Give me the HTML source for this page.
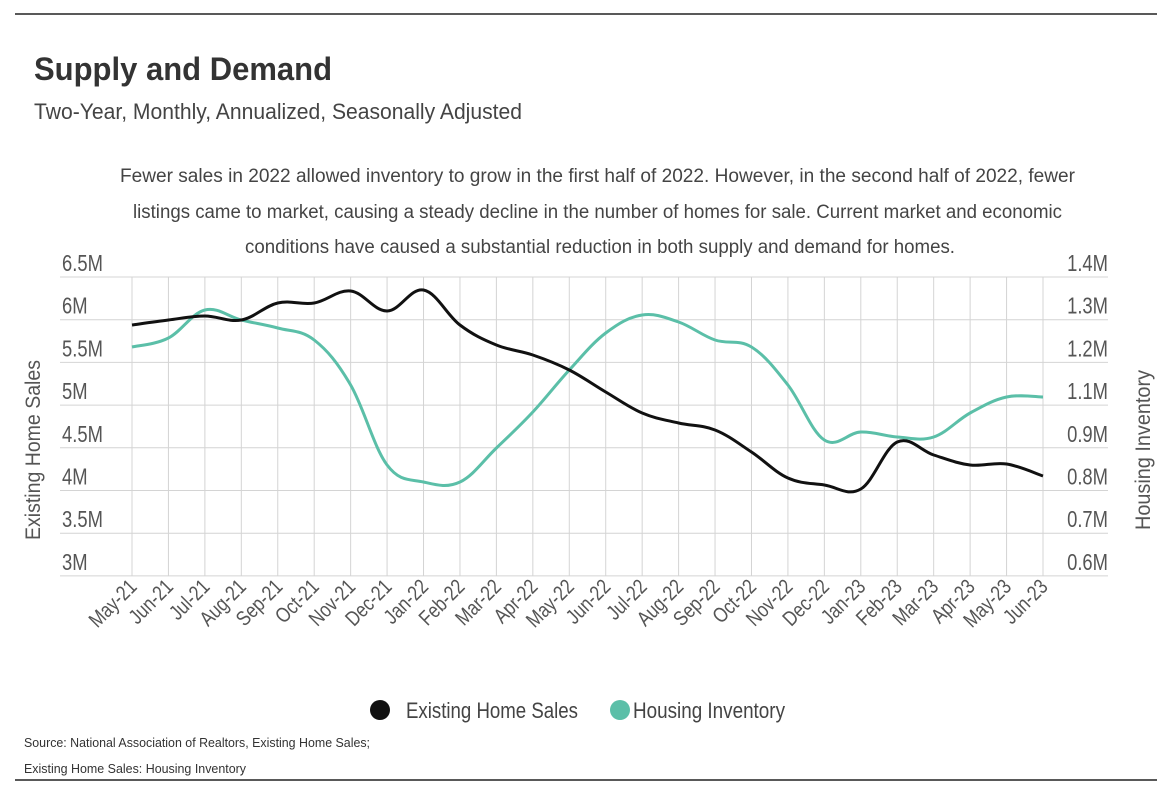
<!DOCTYPE html>
<html><head><meta charset="utf-8"><style>
html,body{margin:0;padding:0;background:#fff;}
svg{display:block;font-family:"Liberation Sans Narrow","Liberation Sans",sans-serif;}
</style></head><body>
<svg id="s" width="1170" height="796" viewBox="0 0 1170 796" xmlns="http://www.w3.org/2000/svg">
<rect width="1170" height="796" fill="#fff"/>
<line x1="15" y1="14" x2="1157" y2="14" stroke="#222" stroke-width="1.5"/>
<line x1="15" y1="780" x2="1157" y2="780" stroke="#222" stroke-width="1.5"/>
<text x="34" y="80" font-size="32" font-weight="bold" fill="#333" textLength="298" lengthAdjust="spacingAndGlyphs">Supply and Demand</text>
<text x="34" y="119" font-size="22" fill="#444" textLength="488" lengthAdjust="spacingAndGlyphs">Two-Year, Monthly, Annualized, Seasonally Adjusted</text>
<g font-size="19" fill="#444">
<text x="120" y="182" textLength="955" lengthAdjust="spacingAndGlyphs">Fewer sales in 2022 allowed inventory to grow in the first half of 2022. However, in the second half of 2022, fewer</text>
<text x="133" y="218" textLength="929" lengthAdjust="spacingAndGlyphs">listings came to market, causing a steady decline in the number of homes for sale. Current market and economic</text>
<text x="245" y="253" textLength="710" lengthAdjust="spacingAndGlyphs">conditions have caused a substantial reduction in both supply and demand for homes.</text>
</g>
<g id="grid" stroke="#d4d4d4" stroke-width="1"></g>
<g id="labels" fill="#555"></g>
<text transform="translate(40,450) rotate(-90)" text-anchor="middle" font-size="21" fill="#555" textLength="180" lengthAdjust="spacingAndGlyphs">Existing Home Sales</text>
<text transform="translate(1150,450) rotate(-90)" text-anchor="middle" font-size="21" fill="#555" textLength="160" lengthAdjust="spacingAndGlyphs">Housing Inventory</text>
<path id="teal" fill="none" stroke="#5bbfa8" stroke-width="3"/>
<path id="black" fill="none" stroke="#111" stroke-width="3"/>
<circle cx="380" cy="710" r="10" fill="#111"/>
<text x="406" y="718" font-size="22" fill="#444" textLength="172" lengthAdjust="spacingAndGlyphs">Existing Home Sales</text>
<circle cx="620" cy="710" r="10" fill="#5bbfa8"/>
<text x="633" y="718" font-size="22" fill="#444" textLength="152" lengthAdjust="spacingAndGlyphs">Housing Inventory</text>
<text x="24" y="747" font-size="12.5" fill="#333" textLength="346" lengthAdjust="spacingAndGlyphs">Source:  National Association of Realtors, Existing Home Sales;</text>
<text x="24" y="773" font-size="12.5" fill="#333" textLength="222" lengthAdjust="spacingAndGlyphs">Existing Home Sales: Housing Inventory</text>
</svg>
<script>
var NS="http://www.w3.org/2000/svg";
var g=document.getElementById('grid'),L=document.getElementById('labels');
function el(p,t,a,txt){var e=document.createElementNS(NS,t);for(var k in a)e.setAttribute(k,a[k]);if(txt)e.textContent=txt;p.appendChild(e);return e;}
function narrow(e,f){var w=e.getComputedTextLength();e.setAttribute('textLength',w*f);e.setAttribute('lengthAdjust','spacingAndGlyphs');}
var x0=132,step=911/25,yTop=277,yStep=42.7;
var left=["6.5M","6M","5.5M","5M","4.5M","4M","3.5M","3M"];
var right=["1.4M","1.3M","1.2M","1.1M","0.9M","0.8M","0.7M","0.6M"];
for(var i=0;i<8;i++){var y=yTop+i*yStep;
el(g,'line',{x1:60,y1:y,x2:1108,y2:y});
narrow(el(L,'text',{x:62,y:y-6,'font-size':23},left[i]),0.8);
narrow(el(L,'text',{x:1108,y:y-6,'font-size':23,'text-anchor':'end'},right[i]),0.8);}
var months=["May-21","Jun-21","Jul-21","Aug-21","Sep-21","Oct-21","Nov-21","Dec-21","Jan-22","Feb-22","Mar-22","Apr-22","May-22","Jun-22","Jul-22","Aug-22","Sep-22","Oct-22","Nov-22","Dec-22","Jan-23","Feb-23","Mar-23","Apr-23","May-23","Jun-23"];
for(var i=0;i<26;i++){var x=x0+i*step;
el(g,'line',{x1:x,y1:277,x2:x,y2:576});
narrow(el(L,'text',{transform:'translate('+(x+6)+',588) rotate(-45)','text-anchor':'end','font-size':21},months[i]),0.82);}
var B=[325,320,316,320,303,303,291,311,290,325,345,355,370,392,413,423,430,452,478,485,489,442,455,465,464,476];
var T=[347,338,310,320,328,340,385,465,482,482,448,412,370,333,315,322,340,347,385,440,432,437,437,413,397,397];
function path(ys){var p=ys.map(function(y,i){return[x0+i*step,y]});var d='M'+p[0][0]+','+p[0][1];
for(var i=0;i<p.length-1;i++){var a=p[Math.max(i-1,0)],b=p[i],c=p[i+1],e=p[Math.min(i+2,p.length-1)];var k=0.18;
d+=' C'+(b[0]+(c[0]-a[0])*k)+','+(b[1]+(c[1]-a[1])*k)+' '+(c[0]-(e[0]-b[0])*k)+','+(c[1]-(e[1]-b[1])*k)+' '+c[0]+','+c[1];}return d;}
document.getElementById('black').setAttribute('d',path(B));
document.getElementById('teal').setAttribute('d',path(T));
</script>
</body></html>
